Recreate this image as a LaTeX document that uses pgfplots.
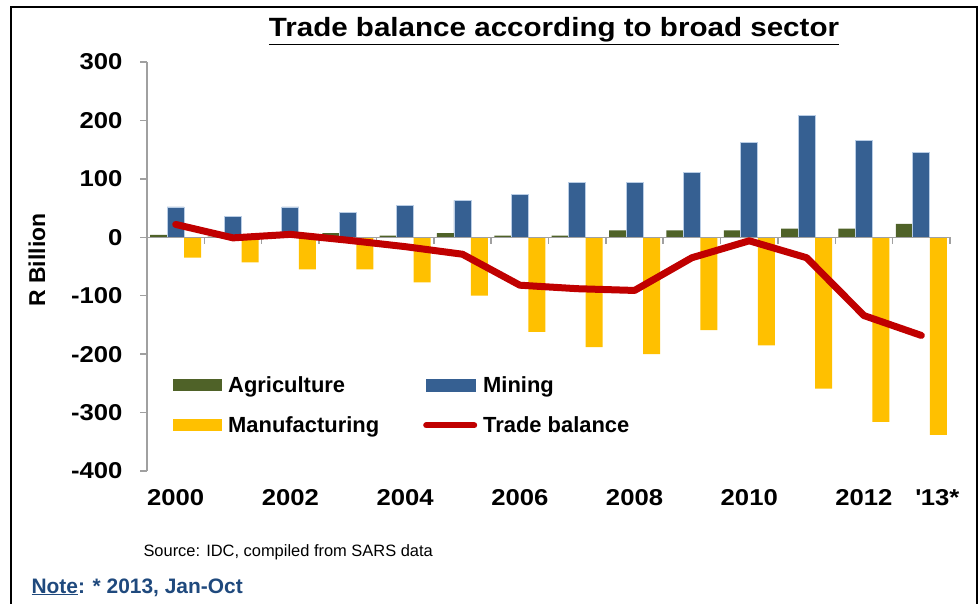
\documentclass[border=0pt]{standalone}
\usepackage{fontspec}
\setmainfont{Liberation Sans}
\newfontfamily\wide[FakeStretch=1.12]{Liberation Sans}
\usepackage{pgfplots}
\pgfplotsset{compat=1.18}

\definecolor{agri}{RGB}{79,98,40}
\definecolor{mining}{RGB}{54,96,146}
\definecolor{miningedge}{RGB}{185,205,229}
\definecolor{manuf}{RGB}{255,192,0}
\definecolor{trade}{RGB}{192,0,0}
\definecolor{axisgray}{RGB}{160,160,160}
\definecolor{noteblue}{RGB}{31,73,125}

\begin{document}
\begin{tikzpicture}
\useasboundingbox (0,0) rectangle (980bp,604bp);
% frame (bottom edge is cut off in the original)
\draw[line width=2.5bp] (11bp,0) -- (11bp,597bp) -- (977bp,597bp) -- (977bp,0);

\node[anchor=base, font=\fontsize{26.5}{30}\wide\bfseries] at (554bp,567bp)
  {\underline{Trade balance according to broad sector}};
\node[anchor=base, rotate=90, font=\fontsize{23}{27}\selectfont\bfseries] at (45bp,344bp) {R Billion};
\node[anchor=base west, font=\fontsize{16.5}{20}\selectfont] at (140bp,47bp)
  {Source: IDC, compiled from SARS data};
\node[anchor=base west, text=noteblue, font=\fontsize{21}{25}\selectfont\bfseries] at (28bp,11bp)
  {\underline{Note}: * 2013, Jan-Oct};

\begin{axis}[
  at={(147bp,133bp)}, anchor=south west,
  scale only axis, width=803bp, height=409bp,
  xmin=-0.5, xmax=13.5, ymin=-400, ymax=300,
  axis lines=left,
  axis line style={-, draw=axisgray, line width=1.5bp},
  x axis line style={draw=none},
  xtick={0,2,4,6,8,10,12,13},
  xticklabels={2000,2002,2004,2006,2008,2010,2012,\hspace*{32bp}\textquotesingle13*},
  ytick={-400,-300,...,300},
  tick align=outside,
  major tick length=7bp,
  x tick style={draw=none},
  y tick style={draw=axisgray, line width=1.5bp},
  /pgf/number format/assume math mode=true,
  tick label style={font=\fontsize{23}{27}\wide\bfseries},
  x tick label style={yshift=-8bp},
  y tick label style={xshift=-14bp},
  clip=false,
  legend columns=2,
  legend cell align=left,
  legend style={at={(0.0324,0.232)}, anchor=north west, draw=none, fill=none,
    inner sep=0pt, font=\fontsize{22}{26}\selectfont\bfseries,
    nodes={inner sep=0pt},
    row sep=23bp,
    /tikz/every odd column/.append style={column sep=6bp},
    /tikz/every even column/.append style={column sep=44bp}},
]
\addplot[ybar, bar width=17bp, bar shift=-17bp, fill=agri, draw=none,
  legend image code/.code={\fill[agri] (0bp,-6bp) rectangle (49bp,6bp);}]
  coordinates {(0,4) (1,1) (2,1) (3,7) (4,3) (5,7) (6,3) (7,3) (8,12) (9,12) (10,12) (11,15) (12,15) (13,23)};
\addplot[ybar, bar width=17bp, bar shift=0bp, fill=mining, draw=miningedge, line width=0.8bp,
  legend image code/.code={\fill[mining] (0bp,-6bp) rectangle (49bp,6bp);}]
  coordinates {(0,52) (1,35) (2,52) (3,43) (4,55) (5,63) (6,74) (7,94) (8,94) (9,111) (10,162) (11,208) (12,166) (13,145)};
\addplot[ybar, bar width=17bp, bar shift=17bp, fill=manuf, draw=none,
  legend image code/.code={\fill[manuf] (0bp,-6bp) rectangle (49bp,6bp);}]
  coordinates {(0,-35) (1,-43) (2,-55) (3,-55) (4,-77) (5,-100) (6,-162) (7,-188) (8,-200) (9,-159) (10,-185) (11,-259) (12,-316) (13,-338)};
% zero line and category separators
\addplot[forget plot, axisgray, line width=1.5bp, mark=none] coordinates {(-0.5,0) (13.5,0)};
\addplot[forget plot, ycomb, axisgray, line width=1.5bp, mark=none]
  coordinates {(0.5,-12) (1.5,-12) (2.5,-12) (3.5,-12) (4.5,-12) (5.5,-12) (6.5,-12) (7.5,-12) (8.5,-12) (9.5,-12) (10.5,-12) (11.5,-12) (12.5,-12) (13.5,-12)};
\addplot[trade, line width=7bp, line cap=round, line join=round, mark=none,
  legend image code/.code={\draw[trade, line width=6bp, line cap=round] (0bp,0bp) -- (48bp,0bp);}]
  coordinates {(0,22) (1,-1) (2,5) (3,-5) (4,-16) (5,-29) (6,-82) (7,-88) (8,-91) (9,-35) (10,-6) (11,-35) (12,-134) (13,-168)};
\legend{Agriculture,Mining,Manufacturing,Trade balance}
\end{axis}
\end{tikzpicture}
\end{document}
